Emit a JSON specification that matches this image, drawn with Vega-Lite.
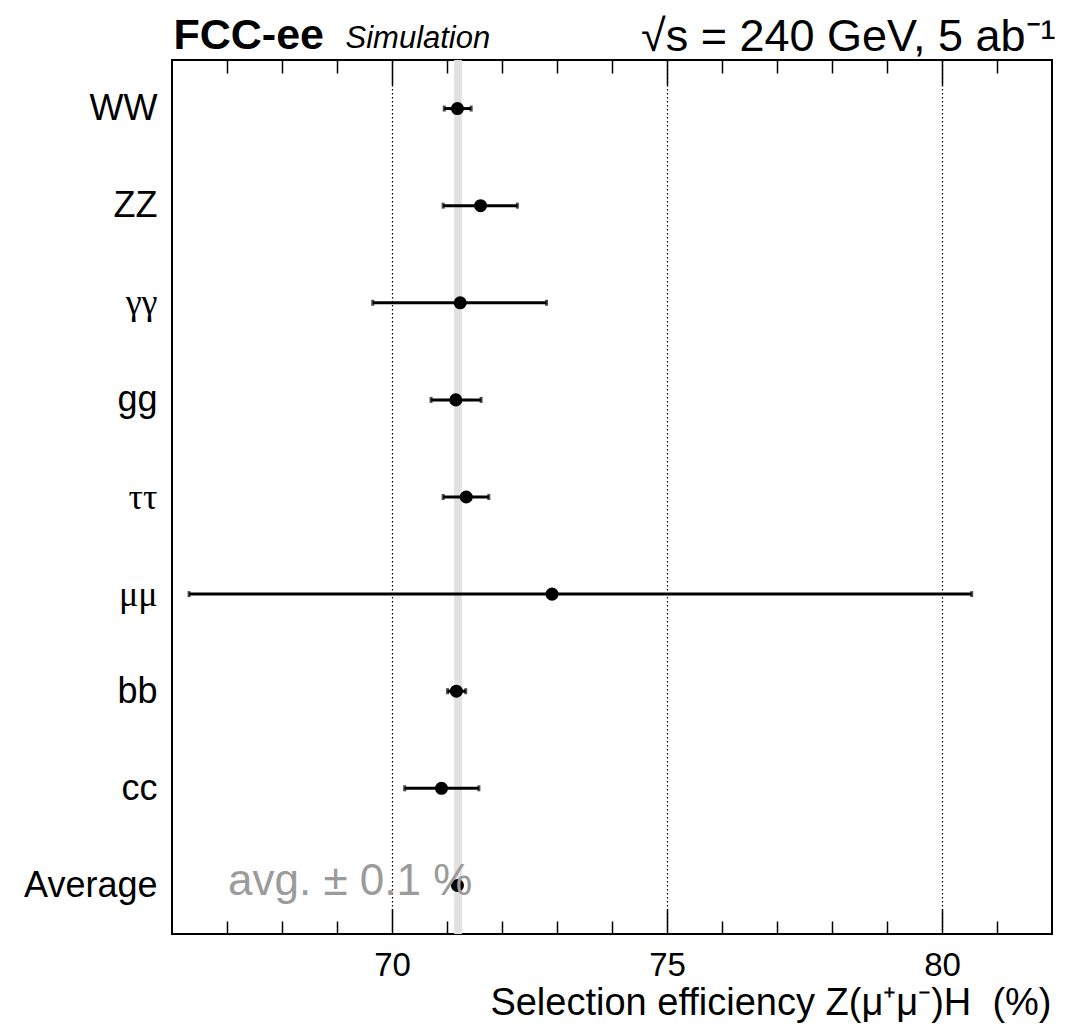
{
  "$schema": "https://vega.github.io/schema/vega-lite/v6.json",
  "width": 880,
  "height": 874,
  "autosize": {"type": "none"},
  "padding": {"left": 172, "top": 60, "right": 29, "bottom": 90},
  "background": "white",
  "config": {
    "view": {"stroke": "black", "strokeWidth": 2},
    "font": "Liberation Sans"
  },
  "datasets": {
    "effs": [
      {"process": "WW", "eff": 71.19, "lo": 70.95, "hi": 71.44},
      {"process": "ZZ", "eff": 71.61, "lo": 70.93, "hi": 72.28},
      {"process": "γγ", "eff": 71.24, "lo": 69.65, "hi": 72.81},
      {"process": "gg", "eff": 71.16, "lo": 70.71, "hi": 71.62},
      {"process": "ττ", "eff": 71.35, "lo": 70.93, "hi": 71.76},
      {"process": "μμ", "eff": 72.91, "lo": 66.31, "hi": 80.54},
      {"process": "bb", "eff": 71.17, "lo": 71.01, "hi": 71.34},
      {"process": "cc", "eff": 70.9, "lo": 70.23, "hi": 71.58},
      {"process": "Average", "eff": 71.19, "lo": 71.15, "hi": 71.23}
    ],
    "band": [{"lo": 71.13, "hi": 71.27}],
    "note": [{"process": "Average", "x": 67.02, "label": "avg. ± 0.1 %"}]
  },
  "resolve": {"axis": {"x": "independent", "y": "independent"}},
  "layer": [
    {
      "data": {"name": "band"},
      "mark": {"type": "rect", "color": "#e1e1e1"},
      "encoding": {
        "x": {
          "field": "lo", "type": "quantitative",
          "scale": {"domain": [66, 82], "nice": false, "zero": false},
          "axis": {
            "orient": "bottom", "zindex": 1,
            "values": [67, 68, 69, 70, 71, 72, 73, 74, 75, 76, 77, 78, 79, 80, 81],
            "ticks": true,
            "tickSize": {"condition": {"test": "datum.value % 5 === 0", "value": -25}, "value": -13},
            "tickColor": "black", "tickWidth": 1.5, "tickOpacity": 1,
            "labelExpr": "datum.value % 5 === 0 ? datum.label : ''",
            "labelFont": "Liberation Sans", "labelFontSize": 33, "labelColor": "black",
            "labelPadding": 40, "labelBaseline": "top",
            "grid": false, "domain": false,
            "title": "Selection efficiency Z(μ⁺μ⁻)H\u00a0\u00a0(%)",
            "titleFont": "Liberation Sans", "titleFontSize": 38, "titleFontWeight": "normal",
            "titleColor": "black", "titleAlign": "right", "titleBaseline": "alphabetic",
            "titleX": 879, "titleY": 80, "titleAngle": 0
          }
        },
        "x2": {"field": "hi"}
      }
    },
    {
      "data": {"name": "effs"},
      "mark": {"type": "rule", "color": "black", "strokeWidth": 3},
      "encoding": {
        "x": {
          "field": "lo", "type": "quantitative",
          "axis": {
            "orient": "top", "zindex": 1,
            "values": [67, 68, 69, 70, 71, 72, 73, 74, 75, 76, 77, 78, 79, 80, 81],
            "tickSize": {"condition": {"test": "datum.value % 5 === 0", "value": -25}, "value": -13},
            "tickColor": "black", "tickWidth": 1.5,
            "labels": false, "grid": false, "domain": false,
            "title": "√s = 240 GeV, 5 ab⁻¹",
            "titleFont": "Liberation Sans", "titleFontSize": 45, "titleFontWeight": "normal",
            "titleColor": "black", "titleAlign": "right", "titleBaseline": "alphabetic",
            "titleX": 883, "titleY": -10, "titleAngle": 0
          }
        },
        "x2": {"field": "hi"},
        "y": {
          "field": "process", "type": "nominal",
          "scale": {"type": "point", "padding": 0.5, "domain": ["WW", "ZZ", "γγ", "gg", "ττ", "μμ", "bb", "cc", "Average"]},
          "axis": {
            "orient": "left", "ticks": false, "domain": false, "grid": false,
            "labelFontSize": 36, "labelColor": "black", "labelPadding": 15,
            "labelFont": {"condition": {"test": "indexof(['γγ','ττ','μμ'], datum.value) >= 0", "value": "Liberation Serif"}, "value": "Liberation Sans"},
            "title": "FCC-ee", "titleFont": "Liberation Sans", "titleFontSize": 43, "titleFontWeight": "bold",
            "titleColor": "black", "titleAngle": 0, "titleAlign": "left", "titleBaseline": "alphabetic",
            "titleX": 1, "titleY": -12
          }
        }
      }
    },
    {
      "data": {"name": "effs"},
      "mark": {"type": "tick", "color": "black", "orient": "vertical", "size": 6, "thickness": 3},
      "encoding": {
        "x": {
          "field": "lo", "type": "quantitative",
          "axis": {
            "orient": "bottom", "zindex": 0,
            "values": [70, 75, 80],
            "ticks": false, "labels": false, "domain": false, "title": null,
            "grid": true, "gridColor": "black", "gridDash": [1.5, 2.5], "gridWidth": 1.2
          }
        },
        "y": {
          "field": "process", "type": "nominal",
          "axis": {
            "orient": "right", "ticks": false, "domain": false, "labels": false, "grid": false,
            "title": "Simulation", "titleFont": "Liberation Sans", "titleFontSize": 31,
            "titleFontWeight": "normal", "titleFontStyle": "italic", "titleColor": "black",
            "titleAngle": 0, "titleAlign": "left", "titleBaseline": "alphabetic",
            "titleX": -707, "titleY": -13
          }
        }
      }
    },
    {
      "data": {"name": "effs"},
      "mark": {"type": "tick", "color": "black", "orient": "vertical", "size": 6, "thickness": 3},
      "encoding": {
        "x": {"field": "hi", "type": "quantitative", "axis": null},
        "y": {"field": "process", "type": "nominal", "axis": null}
      }
    },
    {
      "data": {"name": "effs"},
      "mark": {"type": "point", "filled": true, "color": "black", "size": 170, "opacity": 1},
      "encoding": {
        "x": {"field": "eff", "type": "quantitative", "axis": null},
        "y": {"field": "process", "type": "nominal", "axis": null}
      }
    },
    {
      "data": {"name": "note"},
      "mark": {"type": "text", "align": "left", "baseline": "alphabetic", "dy": 10, "font": "Liberation Sans", "fontSize": 44, "color": "#9b9b9b"},
      "encoding": {
        "x": {"field": "x", "type": "quantitative", "axis": null},
        "y": {"field": "process", "type": "nominal", "axis": null},
        "text": {"field": "label"}
      }
    }
  ]
}
